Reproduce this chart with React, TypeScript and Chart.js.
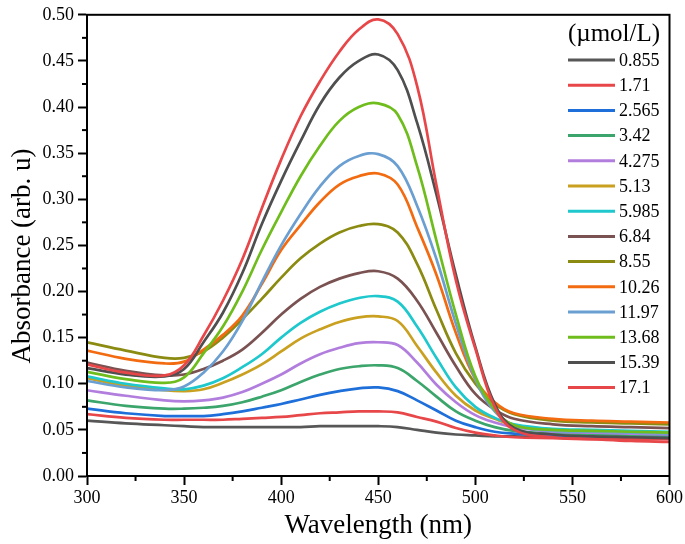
import React, { useEffect, useRef } from "react";
import { Chart, registerables } from "chart.js";

Chart.register(...registerables);

const wavelengths = [300, 320, 340, 350, 360, 370, 380, 390, 400, 410, 420, 430, 440, 450, 460, 470, 480, 490, 500, 510, 520, 540, 560, 580, 600];

const concentrations = ["0.855", "1.71", "2.565", "3.42", "4.275", "5.13", "5.985", "6.84", "8.55", "10.26", "11.97", "13.68", "15.39", "17.1"];

const c0855 = [0.060, 0.057, 0.055, 0.054, 0.053, 0.053, 0.053, 0.053, 0.053, 0.053, 0.054, 0.054, 0.054, 0.054, 0.053, 0.050, 0.047, 0.045, 0.044, 0.043, 0.043, 0.042, 0.042, 0.041, 0.041];
const c171 = [0.067, 0.063, 0.061, 0.061, 0.061, 0.061, 0.062, 0.063, 0.064, 0.066, 0.068, 0.069, 0.070, 0.070, 0.069, 0.064, 0.059, 0.052, 0.047, 0.044, 0.042, 0.041, 0.040, 0.040, 0.040];
const c2565 = [0.073, 0.068, 0.065, 0.065, 0.065, 0.067, 0.070, 0.074, 0.078, 0.083, 0.088, 0.092, 0.095, 0.096, 0.092, 0.082, 0.071, 0.060, 0.053, 0.048, 0.046, 0.044, 0.043, 0.043, 0.043];
const c342 = [0.082, 0.076, 0.073, 0.073, 0.074, 0.076, 0.080, 0.086, 0.093, 0.102, 0.110, 0.116, 0.119, 0.120, 0.117, 0.103, 0.086, 0.070, 0.060, 0.053, 0.049, 0.046, 0.045, 0.044, 0.044];
const c4275 = [0.093, 0.087, 0.082, 0.081, 0.082, 0.085, 0.091, 0.100, 0.110, 0.122, 0.132, 0.139, 0.144, 0.145, 0.142, 0.123, 0.099, 0.080, 0.066, 0.058, 0.053, 0.048, 0.047, 0.046, 0.045];
const c513 = [0.106, 0.098, 0.093, 0.092, 0.094, 0.101, 0.110, 0.121, 0.135, 0.149, 0.159, 0.167, 0.172, 0.173, 0.168, 0.141, 0.112, 0.087, 0.071, 0.062, 0.055, 0.050, 0.049, 0.048, 0.047];
const c5985 = [0.108, 0.100, 0.095, 0.094, 0.098, 0.106, 0.118, 0.132, 0.150, 0.166, 0.178, 0.187, 0.193, 0.195, 0.189, 0.162, 0.128, 0.096, 0.075, 0.063, 0.056, 0.051, 0.050, 0.049, 0.048];
const c684 = [0.123, 0.114, 0.109, 0.110, 0.116, 0.125, 0.137, 0.155, 0.175, 0.192, 0.205, 0.214, 0.220, 0.222, 0.214, 0.190, 0.155, 0.119, 0.089, 0.072, 0.062, 0.056, 0.054, 0.053, 0.052];
const c855 = [0.145, 0.136, 0.128, 0.128, 0.135, 0.150, 0.170, 0.192, 0.215, 0.236, 0.252, 0.264, 0.271, 0.273, 0.264, 0.230, 0.180, 0.133, 0.100, 0.078, 0.067, 0.060, 0.058, 0.057, 0.056];
const c1026 = [0.136, 0.127, 0.122, 0.124, 0.137, 0.153, 0.174, 0.208, 0.245, 0.272, 0.297, 0.316, 0.325, 0.328, 0.316, 0.270, 0.218, 0.155, 0.105, 0.080, 0.068, 0.062, 0.060, 0.059, 0.058];
const c1197 = [0.103, 0.096, 0.093, 0.097, 0.112, 0.135, 0.168, 0.210, 0.250, 0.284, 0.314, 0.336, 0.347, 0.349, 0.336, 0.293, 0.235, 0.165, 0.105, 0.070, 0.055, 0.049, 0.048, 0.047, 0.046];
const c1368 = [0.113, 0.105, 0.101, 0.107, 0.133, 0.162, 0.200, 0.245, 0.286, 0.325, 0.358, 0.385, 0.400, 0.404, 0.392, 0.336, 0.255, 0.175, 0.108, 0.072, 0.055, 0.050, 0.049, 0.048, 0.047];
const c1539 = [0.117, 0.110, 0.108, 0.116, 0.145, 0.177, 0.220, 0.273, 0.320, 0.363, 0.403, 0.432, 0.450, 0.457, 0.440, 0.383, 0.305, 0.218, 0.140, 0.078, 0.052, 0.045, 0.043, 0.042, 0.041];
const c171b = [0.121, 0.112, 0.109, 0.120, 0.152, 0.190, 0.235, 0.290, 0.343, 0.390, 0.428, 0.460, 0.484, 0.495, 0.479, 0.423, 0.315, 0.212, 0.138, 0.075, 0.050, 0.042, 0.040, 0.038, 0.037];

const seriesValues = [c0855, c171, c2565, c342, c4275, c513, c5985, c684, c855, c1026, c1197, c1368, c1539, c171b];

const seriesColors = ["#575757", "#e8474a", "#1e6fd9", "#3ba56b", "#b27ede", "#c9a020", "#1ec8cc", "#7b5252", "#8b8b12", "#f26b11", "#6b9fd1", "#6fbd1c", "#4f4f4f", "#e8474a"];

const xTicks = [300, 350, 400, 450, 500, 550, 600];
const legendTitle = "(\u00b5mol/L)";
const xTitle = "Wavelength (nm)";
const yTitle = "Absorbance (arb. u)";

const FONT = "'Liberation Serif', 'Times New Roman', serif";

const framePlugin = {
  id: "frameAndLegend",
  afterDraw(chart: any) {
    const { ctx, chartArea, scales } = chart;
    const x = scales.x;
    const y = scales.y;
    ctx.save();
    ctx.strokeStyle = "#000";
    ctx.lineWidth = 2;
    ctx.strokeRect(chartArea.left, chartArea.top, chartArea.right - chartArea.left, chartArea.bottom - chartArea.top);
    for (let i = 0; i < xTicks.length - 1; i++) {
      const v = (xTicks[i] + xTicks[i + 1]) / 2;
      const px = x.getPixelForValue(v);
      ctx.beginPath();
      ctx.moveTo(px, chartArea.bottom);
      ctx.lineTo(px, chartArea.bottom + 5);
      ctx.stroke();
    }
    for (let v = 0.025; v < 0.5; v += 0.05) {
      const py = y.getPixelForValue(v);
      ctx.beginPath();
      ctx.moveTo(chartArea.left, py);
      ctx.lineTo(chartArea.left - 5, py);
      ctx.stroke();
    }
    // y-axis title
    ctx.fillStyle = "#000";
    ctx.save();
    ctx.translate(23, 256);
    ctx.rotate(-Math.PI / 2);
    ctx.textAlign = "center";
    ctx.textBaseline = "middle";
    ctx.font = `27px ${FONT}`;
    ctx.fillText(yTitle, 0, 0);
    ctx.restore();
    // legend
    ctx.textBaseline = "middle";
    ctx.textAlign = "center";
    ctx.font = `25px ${FONT}`;
    ctx.fillText(legendTitle, 614, 34);
    ctx.font = `18px ${FONT}`;
    ctx.textAlign = "left";
    concentrations.forEach((c, i) => {
      const ly = 60 + i * 25.2;
      ctx.strokeStyle = seriesColors[i];
      ctx.lineWidth = 3;
      ctx.beginPath();
      ctx.moveTo(568, ly);
      ctx.lineTo(615, ly);
      ctx.stroke();
      ctx.fillText(c, 619, ly + 1);
    });
    ctx.restore();
  },
};

export default function App() {
  const ref = useRef<HTMLCanvasElement>(null);
  useEffect(() => {
    if (!ref.current) return;
    const n = seriesValues.length;
    const chart = new Chart(ref.current, {
      type: "line",
      data: {
        datasets: seriesValues.map((vals, i) => ({
          label: concentrations[i],
          data: vals.map((v, j) => ({ x: wavelengths[j], y: v })),
          borderColor: seriesColors[i],
          backgroundColor: seriesColors[i],
          borderWidth: 2.7,
          pointRadius: 0,
          tension: 0.4,
          fill: false,
          order: n - 1 - i,
        })),
      },
      options: {
        responsive: false,
        animation: false,
        layout: { padding: { top: 8, right: 14, left: 0, bottom: 0 } },
        plugins: {
          legend: { display: false },
          tooltip: { enabled: false },
        },
        scales: {
          x: {
            type: "linear",
            min: 300,
            max: 600,
            afterFit: (s: any) => {
              s.height = 68;
            },
            afterBuildTicks: (s: any) => {
              s.ticks = xTicks.map((v) => ({ value: v }));
            },
            ticks: {
              color: "#000",
              font: { family: FONT, size: 18 },
              padding: 2,
              maxRotation: 0,
            },
            grid: { drawOnChartArea: false, drawTicks: true, tickLength: 9, tickColor: "#000", tickWidth: 2 },
            border: { display: true, color: "#000", width: 2 },
            title: { display: true, text: xTitle, color: "#000", font: { family: FONT, size: 27 }, padding: { top: 0, bottom: 2 } },
          },
          y: {
            type: "linear",
            min: 0,
            max: 0.5,
            afterFit: (s: any) => {
              s.width = 87;
            },
            ticks: {
              stepSize: 0.05,
              color: "#000",
              font: { family: FONT, size: 18 },
              padding: 4,
              callback: (v: any) => Number(v).toFixed(2),
            },
            grid: { drawOnChartArea: false, drawTicks: true, tickLength: 9, tickColor: "#000", tickWidth: 2 },
            border: { display: true, color: "#000", width: 2 },
            title: { display: false },
          },
        },
      },
      plugins: [framePlugin],
    });
    return () => chart.destroy();
  }, []);
  return (
    <div style={{ position: "fixed", left: 0, top: 0, width: 685, height: 544, background: "#fff" }}>
      <canvas ref={ref} width={685} height={544} style={{ width: 685, height: 544 }} />
    </div>
  );
}
